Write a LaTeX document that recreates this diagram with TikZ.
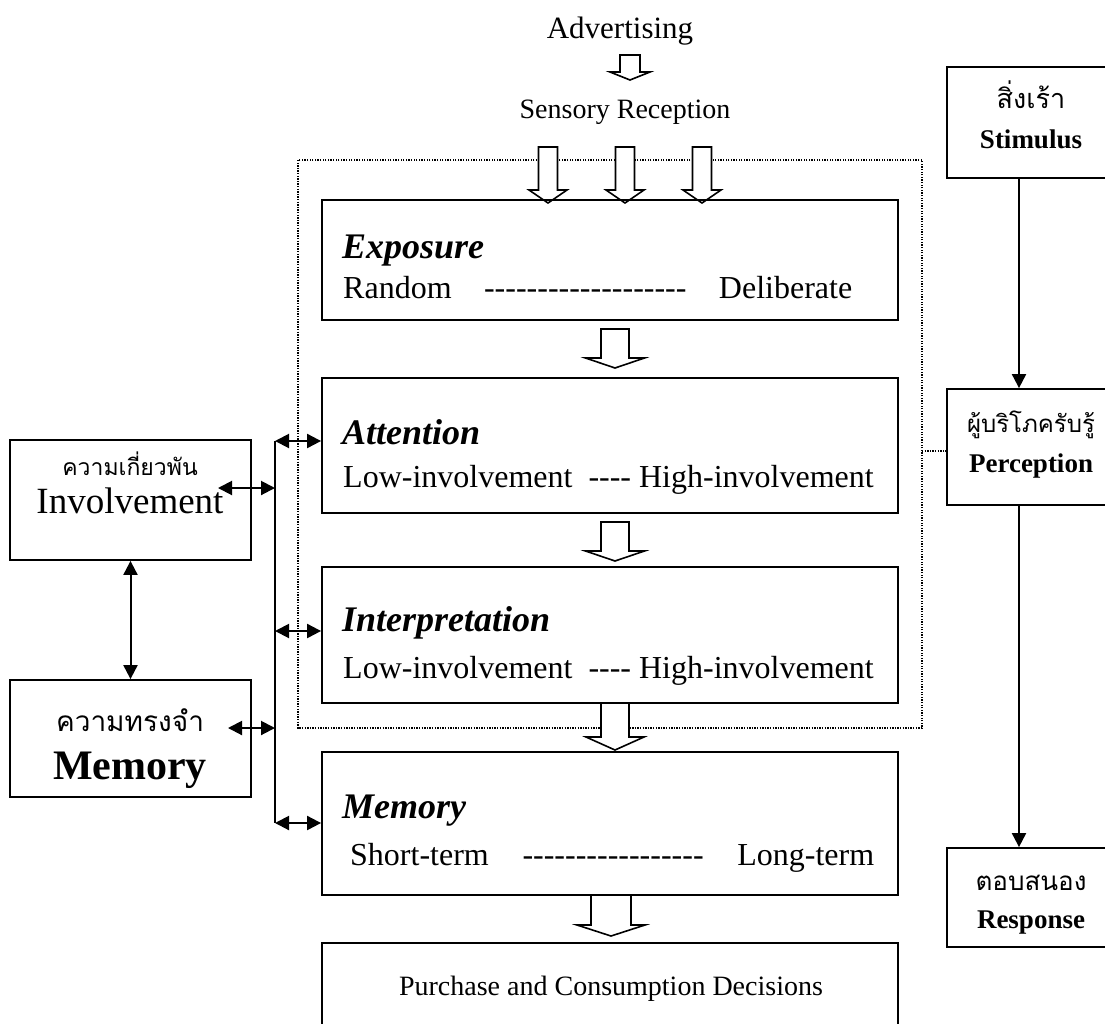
\documentclass[tikz,border=0pt]{standalone}
\usepackage{fontspec}
\setmainfont{Liberation Serif}
\newfontfamily\thaifont[Script=Thai]{Loma}
\usetikzlibrary{arrows.meta}

\newcommand\fsz[1]{\fontsize{#1}{#1}\selectfont}
% a run of plain hyphens (kerns keep them from merging into dashes)
\newcommand\dashrun[1]{\foreach \k in {1,...,#1}{-\kern0pt}}

\tikzset{
  box/.style={draw, line width=1.8, minimum width=#1, inner sep=0},
  txt/.style={inner sep=0, anchor=base},
  txtl/.style={inner sep=0, anchor=base west},
  link/.style={line width=2, {Triangle[length=14,width=14]}-{Triangle[length=14,width=14]}},
  flow/.style={line width=2, -{Triangle[length=14,width=14]}},
  dotline/.style={line width=1.3, dash pattern=on 1.3 off 1.3},
  % hollow block arrow; origin = top centre of the shaft
  pics/hollow/.style n args={4}{code={
    \draw[line width=1.6, fill=white, line join=miter]
      ({-#1/2},0) -- ({-#1/2},#3) -- ({-#2/2},#3) -- (0,{#3+#4})
      -- ({#2/2},#3) -- ({#1/2},#3) -- ({#1/2},0) -- cycle;
  }}
}

\begin{document}
\begin{tikzpicture}[x=1pt,y=-1pt]
\useasboundingbox (0,0) rectangle (1105,1023);
\clip (0,0) rectangle (1105,1023);

% perception stage frame
\draw[dotline] (298,160) rectangle (922,728);
\coordinate (dotR) at (922,451);

% ---- headings on top
\node[txt] (adv) at (620,38) {\fsz{31}Advertising};
\node[txt] (sens) at (625,118) {\fsz{28}Sensory Reception};
\pic at (630,55) {hollow={20}{40}{17}{8}};
\pic at (548,147) {hollow={19}{38}{43}{13}};
\pic at (625,147) {hollow={19}{38}{43}{13}};
\pic at (702,147) {hollow={19}{38}{43}{13}};

% ---- main process boxes
\node[box=576, minimum height=120] (exposure)  at (610,260)   {};
\node[box=576, minimum height=135] (attention) at (610,445.5) {};
\node[box=576, minimum height=136] (interp)    at (610,635)   {};
\node[box=576, minimum height=143] (memproc)   at (610,823.5) {};
\node[box=576, minimum height=120] (purchase)  at (610,1003)  {};

\node[txtl] (expT) at (342,258) {\fsz{36}\bfseries\itshape Exposure};
\node[txtl] (expL) at (343,298) {\fsz{32}\makebox[509pt][l]{Random\hfill\dashrun{19}\hfill Deliberate}};
\node[txtl] (attT) at (342,444) {\fsz{36}\bfseries\itshape Attention};
\node[txtl] (attL) at (343,487) {\fsz{32}Low-involvement\ \ \dashrun{4}\ High-involvement};
\node[txtl] (intT) at (342,631) {\fsz{36}\bfseries\itshape Interpretation};
\node[txtl] (intL) at (343,678) {\fsz{32}Low-involvement\ \ \dashrun{4}\ High-involvement};
\node[txtl] (memT) at (342,818) {\fsz{36}\bfseries\itshape Memory};
\node[txtl] (memL) at (350,865) {\fsz{32}\makebox[524pt][l]{Short-term\hfill\dashrun{17}\hfill Long-term}};
\node[txt] (purT) at (611,995) {\fsz{28}Purchase and Consumption Decisions};

\pic at (615,329) {hollow={28}{59}{29}{10}};
\pic at (615,522) {hollow={28}{59}{29}{10}};
\pic at (615,703) {hollow={28}{58}{34}{13}};
\pic at (611,895) {hollow={40}{68}{30}{11}};

% ---- left: involvement and memory
\node[box=241, minimum height=120] (involve) at (130.5,500)   {};
\node[box=241, minimum height=117] (memory)  at (130.5,738.5) {};
\node[txt] (invTh) at (130,475) {\thaifont\fsz{23}ความเกี่ยวพัน};
\node[txt] (invEn) at (130,513) {\fsz{37}Involvement};
\node[txt] (memTh) at (130,731) {\thaifont\fsz{28}ความทรงจำ};
\node[txt] (memEn) at (130,779) {\fsz{42}\bfseries Memory};

\coordinate (busTop) at (275,441);
\coordinate (busI)   at (275,631);
\coordinate (busBot) at (275,823);
\coordinate (busV)   at (275,488);
\coordinate (busM)   at (275,728);
\coordinate (invTip) at (218,488);
\coordinate (memTip) at (228,728);

\draw[line width=2] (busTop) -- (busBot);
\draw[link] (busTop) -- (busTop -| attention.west);
\draw[link] (busI) -- (busI -| interp.west);
\draw[link] (busBot) -- (busBot -| memproc.west);
\draw[link] (invTip) -- (busV);
\draw[link] (memTip) -- (busM);
\draw[link] (involve.south) -- (memory.north);

% ---- right: stimulus, perception, response
\node[box=168, minimum height=111] (stimulus)   at (1031,122.5) {};
\node[box=168, minimum height=116] (perception) at (1031,447)   {};
\node[box=168, minimum height=99]  (response)   at (1031,897.5) {};
\node[txt] (stiTh) at (1031,108) {\thaifont\fsz{27}สิ่งเร้า};
\node[txt] (stiEn) at (1031,148) {\fsz{27}\bfseries Stimulus};
\node[txt] (perTh) at (1031,432) {\thaifont\fsz{24}ผู้บริโภครับรู้};
\node[txt] (perEn) at (1031,472) {\fsz{27}\bfseries Perception};
\node[txt] (resTh) at (1031,890) {\thaifont\fsz{26}ตอบสนอง};
\node[txt] (resEn) at (1031,928) {\fsz{27}\bfseries Response};

\draw[flow] ([xshift=-12pt]stimulus.south) -- ([xshift=-12pt]perception.north);
\draw[flow] ([xshift=-12pt]perception.south) -- ([xshift=-12pt]response.north);
\draw[dotline] (dotR) -- (dotR -| perception.west);
\end{tikzpicture}
\end{document}
